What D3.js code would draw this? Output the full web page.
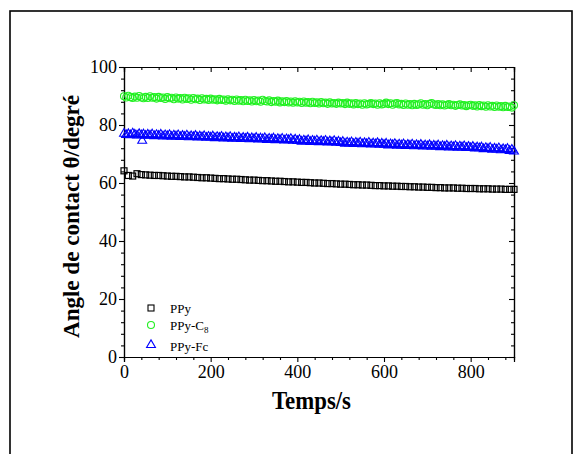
<!DOCTYPE html>
<html><head><meta charset="utf-8">
<script src="https://cdn.jsdelivr.net/npm/d3@7"></script>
<style>body{margin:0;background:#fff}svg{display:block}</style>
</head><body>
<script>
const times10 = [0,10,20,30,40,50,60,70,80,90,100,110,120,130,140,150,160,170,180,190,200,210,220,230,240,250,260,270,280,290,300,310,320,330,340,350,360,370,380,390,400,410,420,430,440,450,460,470,480,490,500,510,520,530,540,550,560,570,580,590,600,610,620,630,640,650,660,670,680,690,700,710,720,730,740,750,760,770,780,790,800,810,820,830,840,850,860,870,880,890,900];
const times5 = [0,5,10,15,20,25,30,35,40,45,50,55,60,65,70,75,80,85,90,95,
100,105,110,115,120,125,130,135,140,145,150,155,160,165,170,175,180,185,190,195,
200,205,210,215,220,225,230,235,240,245,250,255,260,265,270,275,280,285,290,295,
300,305,310,315,320,325,330,335,340,345,350,355,360,365,370,375,380,385,390,395,
400,405,410,415,420,425,430,435,440,445,450,455,460,465,470,475,480,485,490,495,
500,505,510,515,520,525,530,535,540,545,550,555,560,565,570,575,580,585,590,595,
600,605,610,615,620,625,630,635,640,645,650,655,660,665,670,675,680,685,690,695,
700,705,710,715,720,725,730,735,740,745,750,755,760,765,770,775,780,785,790,795,
800,805,810,815,820,825,830,835,840,845,850,855,860,865,870,875,880,885,890,895,900];
const ppy = [64.2,62.6,62.4,63.2,62.9,62.8,62.7,62.6,62.6,62.5,62.4,62.3,62.3,62.2,62.1,62.1,62.0,61.9,61.8,61.8,61.7,61.6,61.5,61.5,61.4,61.3,61.3,61.2,61.1,61.0,61.0,60.9,60.8,60.8,60.7,60.6,60.6,60.5,60.4,60.4,60.3,60.2,60.2,60.1,60.0,60.0,59.9,59.8,59.8,59.7,59.6,59.6,59.5,59.4,59.4,59.3,59.3,59.2,59.1,59.1,59.0,59.0,58.9,58.9,58.8,58.8,58.7,58.7,58.6,58.6,58.5,58.5,58.4,58.4,58.3,58.3,58.3,58.2,58.2,58.1,58.1,58.1,58.0,58.0,58.0,57.9,57.9,57.9,57.8,57.8,57.8];
const ppyC8 = [89.9,89.5,90.1,89.6,89.3,89.8,89.4,90.0,89.5,89.2,89.7,89.3,89.9,89.4,89.6,89.1,89.7,89.3,89.5,89.0,
89.6,89.2,89.4,88.9,89.5,89.1,89.3,88.8,89.4,89.0,89.2,88.7,89.3,88.9,89.1,88.6,89.2,88.8,89.0,88.6,
89.1,88.7,88.9,88.5,89.0,88.6,88.8,88.4,88.9,88.5,88.7,88.3,88.8,88.4,88.6,88.2,88.7,88.3,88.5,88.1,
88.6,88.2,88.4,88.0,88.7,88.3,88.1,88.5,87.9,88.3,88.0,88.4,87.8,88.2,87.9,88.3,87.8,88.1,87.7,88.2,
87.8,88.0,87.6,88.1,87.7,87.9,87.5,88.0,87.6,87.8,87.4,87.9,87.5,87.7,87.3,87.8,87.4,87.6,87.3,87.7,
87.4,87.6,87.2,87.7,87.3,87.5,87.1,87.6,87.2,87.4,87.0,87.5,87.1,87.3,87.6,87.2,87.4,87.0,87.5,87.1,
87.3,87.7,87.2,87.5,87.0,87.4,87.6,87.1,87.3,86.9,87.4,87.0,87.2,86.8,87.3,86.9,87.1,87.5,87.0,87.2,
86.8,87.3,87.6,87.1,86.9,87.2,86.8,87.1,86.7,87.0,87.2,86.8,87.0,86.6,86.9,87.1,86.7,86.9,86.5,86.8,
87.0,86.6,86.8,86.4,86.9,86.5,86.7,86.3,86.8,86.4,86.6,86.2,86.7,86.3,86.5,86.1,86.6,86.2,86.4,86.0,86.8];
const ppyFc = [77.0,76.6,76.9,76.5,77.1,76.7,76.4,76.9,76.5,76.8,76.3,76.7,76.4,76.8,76.2,76.6,76.3,76.7,76.1,76.5,
76.2,76.6,76.0,76.4,76.1,76.5,75.9,76.3,76.0,76.4,75.8,76.2,75.9,76.3,75.7,76.1,75.8,76.2,75.6,76.0,
75.7,76.1,75.5,75.9,75.6,76.0,75.4,75.8,75.5,75.9,75.3,75.7,75.4,75.8,75.2,75.6,75.3,75.7,75.1,75.5,
75.2,75.6,75.0,75.4,75.1,75.5,74.9,75.3,75.0,75.4,74.8,75.2,74.9,75.3,74.7,75.1,74.8,75.2,74.6,75.0,
74.5,74.9,74.3,74.7,74.4,74.8,74.2,74.6,74.3,74.7,74.1,74.5,74.2,74.6,74.0,74.4,74.1,74.5,73.9,74.3,
73.8,74.2,73.6,74.0,73.7,74.1,73.5,73.9,73.6,74.0,73.4,73.8,73.5,73.9,73.3,73.7,73.4,73.8,73.2,73.6,
73.2,73.6,73.0,73.4,73.1,73.5,72.9,73.3,73.0,73.4,72.8,73.2,72.9,73.3,72.7,73.1,72.8,73.2,72.6,73.0,
72.7,73.1,72.5,72.9,72.6,73.0,72.4,72.8,72.5,72.9,72.3,72.7,72.4,72.8,72.2,72.6,72.3,72.7,72.1,72.5,
72.1,72.5,71.9,72.3,72.0,72.3,71.7,72.1,71.8,72.2,71.5,71.9,71.6,72.0,71.3,71.7,71.4,71.8,71.1,71.5,70.9];
const ppyFcExtraT = [42];
const ppyFcExtraV = [74.6];
const xTicks = [0,200,400,600,800];
const yTicks = [0,20,40,60,80,100];
const legendNames = ["PPy","PPy-C","PPy-Fc"];

const W=583,H=454;
const m={l:124,r:514,t:67,b:357};
const svg=d3.select("body").append("svg").attr("width",W).attr("height",H);
svg.append("rect").attr("x",10).attr("y",11).attr("width",562).attr("height",460)
  .attr("fill","none").attr("stroke","#000").attr("stroke-width",1.6);

const x=d3.scaleLinear().domain([0,900]).range([m.l,m.r]);
const y=d3.scaleLinear().domain([0,100]).range([m.b,m.t]);
const font="'Liberation Serif','Times New Roman',serif";
const green="#22f022";

const xMinor=d3.range(0,901,40).filter(v=>v%200!==0);
const yMinor=d3.range(0,101,4).filter(v=>v%20!==0);

function styleAxis(g){g.selectAll("path").attr("stroke","#000").attr("stroke-width",1.2);
  g.selectAll("line").attr("stroke","#000").attr("stroke-width",1.1);
  g.selectAll("text").attr("font-family",font).attr("font-size",18).attr("fill","#000");}

svg.append("g").attr("transform",`translate(0,${m.b})`).call(d3.axisBottom(x).tickValues(xMinor).tickSize(3).tickFormat("")).call(styleAxis);
svg.append("g").attr("transform",`translate(0,${m.t})`).call(d3.axisBottom(x).tickValues(xMinor).tickSize(3).tickFormat("")).call(styleAxis);
svg.append("g").attr("transform",`translate(${m.l},0)`).call(d3.axisLeft(y).tickValues(yMinor).tickSize(3).tickFormat("")).call(styleAxis);
svg.append("g").attr("transform",`translate(${m.r},0)`).call(d3.axisLeft(y).tickValues(yMinor).tickSize(3).tickFormat("")).call(styleAxis);
svg.append("g").attr("transform",`translate(0,${m.b})`).call(d3.axisBottom(x).tickValues(xTicks).tickSize(5).tickPadding(3)).call(styleAxis);
svg.append("g").attr("transform",`translate(0,${m.t})`).call(d3.axisBottom(x).tickValues(xTicks).tickSize(5).tickFormat("")).call(styleAxis);
svg.append("g").attr("transform",`translate(${m.l},0)`).call(d3.axisLeft(y).tickValues(yTicks).tickSize(5).tickPadding(2)).call(styleAxis);
svg.append("g").attr("transform",`translate(${m.r},0)`).call(d3.axisLeft(y).tickValues(yTicks).tickSize(5).tickFormat("")).call(styleAxis);

const plot=svg.append("g");
const tri=d3.symbol().type(d3.symbolTriangle).size(34);
const sq=6;
plot.selectAll(".ci").data(times5).enter().append("circle")
  .attr("cx",d=>x(d)).attr("cy",(d,i)=>y(ppyC8[i])).attr("r",3.5)
  .attr("fill","none").attr("stroke",green).attr("stroke-width",1.1);
plot.selectAll(".tr").data(times5).enter().append("path")
  .attr("d",tri).attr("transform",(d,i)=>`translate(${x(d)},${y(ppyFc[i])})`)
  .attr("fill","none").attr("stroke","#0000ff").attr("stroke-width",1.1);
plot.selectAll(".tr2").data(ppyFcExtraT).enter().append("path")
  .attr("d",tri).attr("transform",(d,i)=>`translate(${x(d)},${y(ppyFcExtraV[i])})`)
  .attr("fill","none").attr("stroke","#0000ff").attr("stroke-width",1.1);
plot.selectAll(".sq").data(times10).enter().append("rect")
  .attr("x",(d)=>x(d)-sq/2).attr("y",(d,i)=>y(ppy[i])-sq/2).attr("width",sq).attr("height",sq)
  .attr("fill","none").attr("stroke","#000").attr("stroke-width",1.2);

const lg=svg.append("g").attr("font-family",font).attr("font-size",13);
lg.append("rect").attr("x",148).attr("y",305).attr("width",6).attr("height",6).attr("fill","none").attr("stroke","#000").attr("stroke-width",1.1);
lg.append("text").attr("x",170).attr("y",313).text(legendNames[0]);
lg.append("circle").attr("cx",151).attr("cy",325).attr("r",3.5).attr("fill","none").attr("stroke",green).attr("stroke-width",1.1);
const t2=lg.append("text").attr("x",170).attr("y",330).text(legendNames[1]);
t2.append("tspan").attr("font-size",9).attr("dy",3).text("8");
lg.append("path").attr("d",tri).attr("transform","translate(151,345)").attr("fill","none").attr("stroke","#0000ff").attr("stroke-width",1.1);
lg.append("text").attr("x",170).attr("y",351).text(legendNames[2]);

svg.append("text").attr("x",272).attr("y",409)
  .attr("font-family",font).attr("font-weight","bold").attr("font-size",26)
  .attr("textLength",79).attr("lengthAdjust","spacingAndGlyphs").text("Temps/s");
svg.append("text").attr("transform","translate(79,338) rotate(-90)")
  .attr("font-family",font).attr("font-weight","bold").attr("font-size",24)
  .attr("textLength",243).attr("lengthAdjust","spacingAndGlyphs").text("Angle de contact θ/degré");
</script>
</body></html>
